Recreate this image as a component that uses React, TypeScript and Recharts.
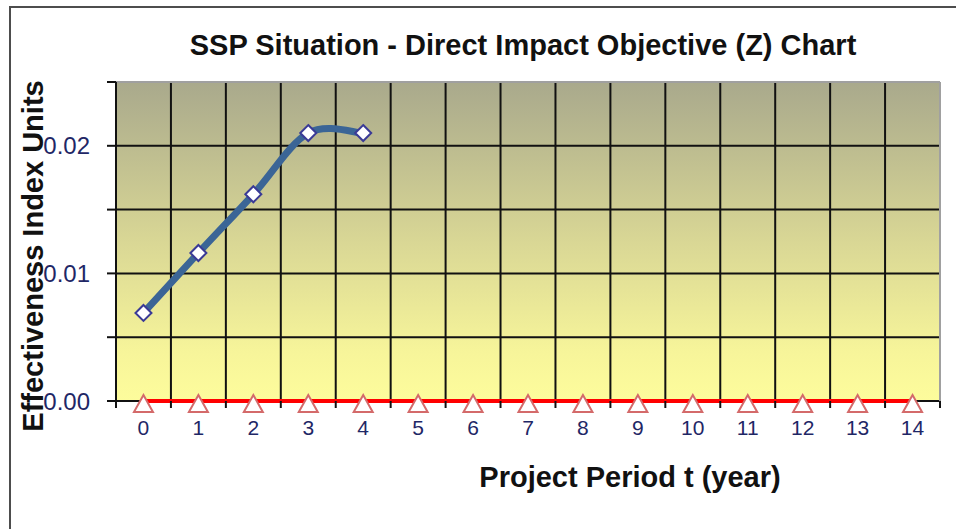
import { CartesianGrid, Label, Line, LineChart, ReferenceLine, XAxis, YAxis } from 'recharts'

const periods = [0, 1, 2, 3, 4, 5, 6, 7, 8, 9, 10, 11, 12, 13, 14]
const zValues = [0.0069, 0.0116, 0.0162, 0.021, 0.021]
const baseValues = [0, 0, 0, 0, 0, 0, 0, 0, 0, 0, 0, 0, 0, 0, 0]
const yTicks = [0, 0.005, 0.01, 0.015, 0.02, 0.025]
const yLabelled = [0, 0.01, 0.02]

const rows = periods.map((t, i) => ({ t, z: zValues[i] ?? null, base: baseValues[i] }))
const gridTicks = [...periods.map((p) => p - 0.5), periods[periods.length - 1] + 0.5]

const font = '"Liberation Sans", Arial, sans-serif'
const tickColor = '#1f2766'

// excel-like smoothing: bezier through the points, control points from neighbours / 6
const excelSmooth = (context: any) => {
  let pts: number[][] = []
  return {
    areaStart() {},
    areaEnd() {},
    lineStart() {
      pts = []
    },
    point(x: number, y: number) {
      pts.push([x, y])
    },
    lineEnd() {
      if (!pts.length) return
      context.moveTo(pts[0][0], pts[0][1])
      for (let i = 0; i < pts.length - 1; i++) {
        const p0 = pts[Math.max(0, i - 1)]
        const p1 = pts[i]
        const p2 = pts[i + 1]
        const p3 = pts[Math.min(pts.length - 1, i + 2)]
        context.bezierCurveTo(
          p1[0] + (p2[0] - p0[0]) / 6,
          p1[1] + (p2[1] - p0[1]) / 6,
          p2[0] - (p3[0] - p1[0]) / 6,
          p2[1] - (p3[1] - p1[1]) / 6,
          p2[0],
          p2[1],
        )
      }
    },
  }
}

function Diamond(props: any) {
  const { cx, cy, index } = props
  if (cx == null || cy == null) return <g key={index} />
  const r = 8
  return (
    <path
      key={index}
      d={`M${cx},${cy - r}L${cx + r},${cy}L${cx},${cy + r}L${cx - r},${cy}Z`}
      fill="#fff"
      stroke="#3a3a96"
      strokeWidth={2}
    />
  )
}

function Triangle(props: any) {
  const { cx, cy, index } = props
  if (cx == null || cy == null) return <g key={index} />
  return (
    <path
      key={index}
      d={`M${cx},${cy - 6}L${cx + 9.5},${cy + 11}L${cx - 9.5},${cy + 11}Z`}
      fill="#fff"
      stroke="#d46a6a"
      strokeWidth={2}
    />
  )
}

export default function App() {
  return (
    <div style={{ position: 'absolute', left: 0, top: 0, width: 956, height: 529, overflow: 'hidden', background: '#fff' }}>
      <div
        style={{
          position: 'absolute',
          left: 9,
          top: 6,
          width: 1200,
          height: 800,
          border: '2px solid #4d4d4d',
        }}
      />
      <div
        style={{
          position: 'absolute',
          left: 123,
          top: 31,
          width: 800,
          textAlign: 'center',
          fontFamily: font,
          fontWeight: 'bold',
          fontSize: 29,
          lineHeight: '29px',
          color: '#111',
        }}
      >
        SSP Situation - Direct Impact Objective (Z) Chart
      </div>
      <div style={{ position: 'absolute', left: 0, top: 0 }}>
        <LineChart
          width={956}
          height={529}
          data={rows}
          margin={{ top: 82, right: 16, bottom: 80, left: 0 }}
          style={{ fontFamily: font }}
        >
          <defs>
            <linearGradient id="plotBg" x1="0" y1="0" x2="0" y2="1">
              <stop offset="0%" stopColor="#a9a98c" />
              <stop offset="50%" stopColor="#d9d795" />
              <stop offset="85%" stopColor="#f7f59a" />
              <stop offset="100%" stopColor="#fdfc9c" />
            </linearGradient>
          </defs>
          <CartesianGrid
            xAxisId="g"
            vertical={false}
            stroke="#111"
            strokeWidth={2}
            fill="url(#plotBg)"
            fillOpacity={1}
          />
          <XAxis
            xAxisId="g"
            dataKey="t"
            type="number"
            domain={[-0.5, 14.5]}
            ticks={gridTicks}
            interval={0}
            tickFormatter={() => ''}
            tickSize={7}
            tickMargin={0}
            height={8}
            axisLine={false}
            tickLine={{ stroke: '#111', strokeWidth: 2 }}
          />
          <XAxis
            xAxisId="l"
            dataKey="t"
            type="number"
            domain={[-0.5, 14.5]}
            ticks={periods}
            interval={0}
            tickSize={0}
            tickMargin={11}
            height={40}
            axisLine={false}
            tickLine={false}
            tick={{ fill: tickColor, fontSize: 21 }}
          >
            <Label
              content={() => (
                <text x={630} y={487} textAnchor="middle" fontSize={29} fontWeight="bold" fill="#111" fontFamily={font}>
                  Project Period t (year)
                </text>
              )}
            />
          </XAxis>
          <YAxis
            type="number"
            domain={[0, 0.025]}
            ticks={yTicks}
            interval={0}
            width={116}
            tickSize={9}
            tickMargin={17}
            tickFormatter={(v: number) => (yLabelled.some((l) => Math.abs(l - v) < 1e-9) ? v.toFixed(2) : '')}
            axisLine={{ stroke: '#111', strokeWidth: 2 }}
            tickLine={{ stroke: '#111', strokeWidth: 2 }}
            tick={{ fill: tickColor, fontSize: 24 }}
          >
            <Label
              content={() => (
                <text
                  transform="translate(43,256) rotate(-90)"
                  textAnchor="middle"
                  fontSize={29}
                  fontWeight="bold"
                  fill="#111"
                  fontFamily={font}
                >
                  Effectiveness Index Units
                </text>
              )}
            />
          </YAxis>
          {gridTicks.slice(0, -1).map((x) => (
            <ReferenceLine key={x} x={x} xAxisId="g" stroke="#111" strokeWidth={2} />
          ))}
          <ReferenceLine y={0.025} xAxisId="g" stroke="#a0a0a0" strokeWidth={2} />
          <ReferenceLine x={14.5} xAxisId="g" stroke="#a0a0a0" strokeWidth={2} />
          <Line
            xAxisId="g"
            dataKey="base"
            stroke="#ff0000"
            strokeWidth={4}
            type="linear"
            dot={<Triangle />}
            activeDot={false}
            isAnimationActive={false}
          />
          <Line
            xAxisId="l"
            dataKey="z"
            stroke="#3b6596"
            strokeWidth={7}
            type={excelSmooth as any}
            dot={<Diamond />}
            activeDot={false}
            isAnimationActive={false}
          />
        </LineChart>
      </div>
    </div>
  )
}
